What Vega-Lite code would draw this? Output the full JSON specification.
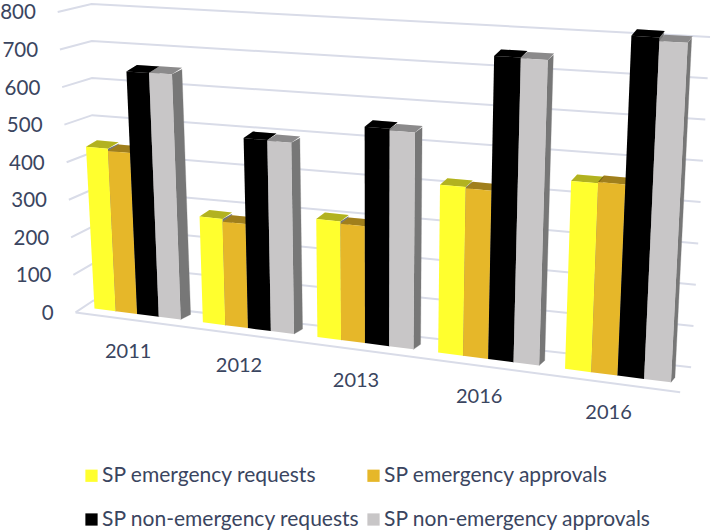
{"$schema":"https://vega.github.io/schema/vega-lite/v6.json","width":714,"height":530,"autosize":{"type":"fit","contains":"padding"},"padding":0,"background":"white",
"config":{"view":{"stroke":null},"font":"Lato"},
"datasets":{
"bars":[
{"group":0,"series":"SP emergency requests","value":426},{"group":0,"series":"SP emergency approvals","value":420},{"group":0,"series":"SP non-emergency requests","value":633},{"group":0,"series":"SP non-emergency approvals","value":634},
{"group":1,"series":"SP emergency requests","value":272},{"group":1,"series":"SP emergency approvals","value":265},{"group":1,"series":"SP non-emergency requests","value":484},{"group":1,"series":"SP non-emergency approvals","value":482},
{"group":2,"series":"SP emergency requests","value":296},{"group":2,"series":"SP emergency approvals","value":290},{"group":2,"series":"SP non-emergency requests","value":537},{"group":2,"series":"SP non-emergency approvals","value":533},
{"group":3,"series":"SP emergency requests","value":410},{"group":3,"series":"SP emergency approvals","value":407},{"group":3,"series":"SP non-emergency requests","value":733},{"group":3,"series":"SP non-emergency approvals","value":731},
{"group":4,"series":"SP emergency requests","value":447},{"group":4,"series":"SP emergency approvals","value":450},{"group":4,"series":"SP non-emergency requests","value":800},{"group":4,"series":"SP non-emergency approvals","value":791}],
"ticks":[{"value":0},{"value":100},{"value":200},{"value":300},{"value":400},{"value":500},{"value":600},{"value":700},{"value":800}],
"years":[{"group":0,"year":"2011"},{"group":1,"year":"2012"},{"group":2,"year":"2013"},{"group":3,"year":"2016"},{"group":4,"year":"2016"}]},
"layer":[
{"data":{"name":"ticks"},"transform":[{"calculate":"[0,1,2]","as":"k"},{"flatten":["k"]},
{"calculate":"datum.k==0?74-18*datum.value/800:datum.k==1?92-2*datum.value/800:693+19*datum.value/800","as":"px"},
{"calculate":"datum.k==0?312-301*datum.value/800:datum.k==1?300-297*datum.value/800:367-331*datum.value/800","as":"py"}],
"mark":{"type":"line","stroke":"#d9dce8","strokeWidth":2},
"encoding":{"x":{"field":"px","type":"quantitative","scale":{"domain":[0,714],"nice":false,"zero":false},"axis":null},"y":{"field":"py","type":"quantitative","scale":{"domain":[530,0],"nice":false,"zero":false},"axis":null},"order":{"field":"k"},"detail":{"field":"value"}}},
{"data":{"name":"ticks"},"transform":[{"filter":"datum.value==0"},{"calculate":"[0,1]","as":"k"},{"flatten":["k"]},
{"calculate":"datum.k==0?74:682","as":"px"},{"calculate":"datum.k==0?312:392","as":"py"}],
"mark":{"type":"line","stroke":"#d9dce8","strokeWidth":2},
"encoding":{"x":{"field":"px","type":"quantitative"},"y":{"field":"py","type":"quantitative"},"order":{"field":"k"}}},
{"data":{"name":"ticks"},"transform":[{"calculate":"34+18*(1-datum.value/800)","as":"px"},{"calculate":"313.5-301*datum.value/800","as":"py"}],
"mark":{"type":"text","align":"right","baseline":"middle","fontSize":20.5,"fill":"#3a4560"},
"encoding":{"x":{"field":"px","type":"quantitative"},"y":{"field":"py","type":"quantitative"},"text":{"field":"value","type":"nominal"}}},
{"data":{"name":"years"},"transform":[{"calculate":"datum.group+0.4","as":"p"},{"calculate":"105.9*datum.p+3.1*datum.p*datum.p","as":"d"},{"calculate":"93+datum.d-9","as":"px"},{"calculate":"308+datum.d*74/579+38","as":"py"}],
"mark":{"type":"text","align":"center","baseline":"middle","fontSize":20,"fill":"#3a4560"},
"encoding":{"x":{"field":"px","type":"quantitative"},"y":{"field":"py","type":"quantitative"},"text":{"field":"year","type":"nominal"}}},
{"data":{"name":"bars"},"transform":[{"calculate":"indexof(['SP emergency requests','SP emergency approvals','SP non-emergency requests','SP non-emergency approvals'],datum.series)","as":"i"},{"calculate":"[0,1,2,3]","as":"k"},{"flatten":["k"]},
{"calculate":"datum.group+0.2*(datum.i+1)","as":"p"},{"calculate":"105.9*datum.p+3.1*datum.p*datum.p","as":"d"},{"calculate":"datum.d/579","as":"f"},
{"calculate":"11-7*datum.f","as":"dx"},
{"calculate":"datum.k==0||datum.k==3?datum.value:0","as":"v"},
{"calculate":"93+datum.d+(-16+33*datum.f)*datum.v/800+(datum.k>1?datum.dx:0)","as":"px"},
{"calculate":"308+datum.f*74-(38+5*datum.f)*datum.v/100-(datum.k>1?5:0)","as":"py"}],
"mark":{"type":"line","fill":"#777777","stroke":"#777777","strokeWidth":0.3},
"encoding":{"x":{"field":"px","type":"quantitative"},"y":{"field":"py","type":"quantitative"},"order":{"field":"k"},"detail":[{"field":"group"},{"field":"i"}]}},
{"data":{"name":"bars"},"transform":[{"calculate":"indexof(['SP emergency requests','SP emergency approvals','SP non-emergency requests','SP non-emergency approvals'],datum.series)","as":"i"},{"calculate":"[0,1,2,3]","as":"k"},{"flatten":["k"]},
{"calculate":"datum.group+0.2*(datum.i+(datum.k==1||datum.k==2?1:0))","as":"p"},{"calculate":"105.9*datum.p+3.1*datum.p*datum.p","as":"d"},{"calculate":"datum.d/579","as":"f"},
{"calculate":"11-6*datum.f","as":"dx"},
{"calculate":"93+datum.d+(-16+33*datum.f)*datum.value/800+(datum.k>1?datum.dx:0)","as":"px"},
{"calculate":"308+datum.f*74-(38+5*datum.f)*datum.value/100-(datum.k>1?6.5:0)","as":"py"}],
"layer":[
{"mark":{"type":"line","strokeWidth":0},
"encoding":{"x":{"field":"px","type":"quantitative"},"y":{"field":"py","type":"quantitative"},"order":{"field":"k"},"detail":[{"field":"group"},{"field":"i"}],"fill":{"field":"series","type":"nominal","scale":{"domain":["SP emergency requests","SP emergency approvals","SP non-emergency requests","SP non-emergency approvals"],"range":["#ffff2e","#e6b729","#000000","#c8c6c7"]},"legend":{"orient":"none","legendX":79,"legendY":464,"columns":2,"direction":"horizontal","title":null,"symbolType":"square","symbolSize":150,"symbolStrokeWidth":0,"labelFontSize":21,"labelFont":"Lato","labelColor":"#3a4560","labelLimit":400,"rowPadding":22,"columnPadding":3,"labelOffset":0,"symbolOpacity":1}}}},
{"mark":{"type":"line","fill":"#000000","stroke":"#000000","strokeWidth":0,"fillOpacity":0.3},
"encoding":{"x":{"field":"px","type":"quantitative"},"y":{"field":"py","type":"quantitative"},"order":{"field":"k"},"detail":[{"field":"group"},{"field":"i"}]}}]},
{"data":{"name":"bars"},"transform":[{"calculate":"indexof(['SP emergency requests','SP emergency approvals','SP non-emergency requests','SP non-emergency approvals'],datum.series)","as":"i"},{"calculate":"[0,1,2,3]","as":"k"},{"flatten":["k"]},
{"calculate":"datum.group+0.2*(datum.i+(datum.k==1||datum.k==2?1:0))","as":"p"},{"calculate":"105.9*datum.p+3.1*datum.p*datum.p","as":"d"},{"calculate":"datum.d/579","as":"f"},
{"calculate":"datum.k>1?datum.value:0","as":"v"},
{"calculate":"93+datum.d+(-16+33*datum.f)*datum.v/800","as":"px"},
{"calculate":"308+datum.f*74-(38+5*datum.f)*datum.v/100","as":"py"}],
"mark":{"type":"line","strokeWidth":0},
"encoding":{"x":{"field":"px","type":"quantitative"},"y":{"field":"py","type":"quantitative"},"order":{"field":"k"},"detail":[{"field":"group"},{"field":"i"}],"fill":{"field":"series","type":"nominal","scale":{"domain":["SP emergency requests","SP emergency approvals","SP non-emergency requests","SP non-emergency approvals"],"range":["#ffff2e","#e6b729","#000000","#c8c6c7"]},"legend":{"orient":"none","legendX":79,"legendY":464,"columns":2,"direction":"horizontal","title":null,"symbolType":"square","symbolSize":150,"symbolStrokeWidth":0,"labelFontSize":21,"labelFont":"Lato","labelColor":"#3a4560","labelLimit":400,"rowPadding":22,"columnPadding":3,"labelOffset":0,"symbolOpacity":1}}}}
]}
